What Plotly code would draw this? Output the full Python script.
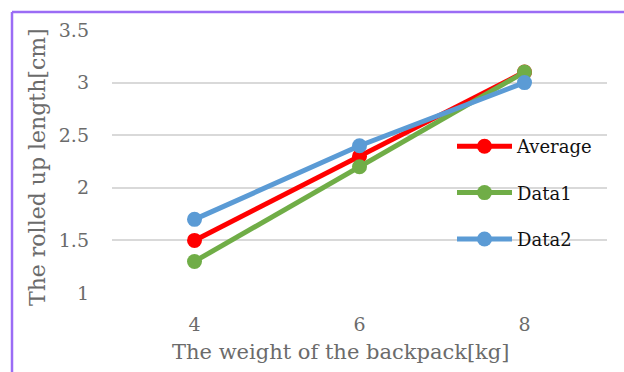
import plotly.graph_objects as go

weights = ["4", "6", "8"]
average = [1.5, 2.3, 3.1]
data1 = [1.3, 2.2, 3.1]
data2 = [1.7, 2.4, 3.0]
y_ticks = [1, 1.5, 2, 2.5, 3, 3.5]
y_tick_text = ["1", "1.5", "2", "2.5", "3", "3.5"]
x_title = "The weight of the backpack[kg]"
y_title = "The rolled up length[cm]"

series = [("Average", average, "#FF0000"), ("Data1", data1, "#70AD47"), ("Data2", data2, "#5B9BD5")]

FONT = "DejaVu Serif"
GRAY = "#6B6B6B"
fig = go.Figure()
for name, vals, col in series:
    fig.add_trace(go.Scatter(
        x=weights, y=vals, name=name, mode="lines+markers",
        line=dict(color=col, width=5), marker=dict(color=col, size=15),
        legendgroup=name,
    ))

W, H = 624, 372
L, R, T, B = 112, 17, 30, 79
pw, ph = W - L - R, H - T - B

def px(xp):
    return (xp - L) / pw

def py(yp):
    return (H - B - yp) / ph

border = "#9B6CF5"
fig.update_layout(
    width=W, height=H,
    margin=dict(l=L, r=R, t=T, b=B),
    paper_bgcolor="white", plot_bgcolor="white",
    font=dict(family=FONT, color=GRAY, size=19),
    xaxis=dict(type="category", range=[-0.5, 2.5], showgrid=False, showline=False,
               zeroline=False, ticks="", ticklabelstandoff=18,
               tickfont=dict(size=19, color=GRAY)),
    yaxis=dict(range=[1, 3.5], tickvals=y_ticks, ticktext=y_tick_text, showgrid=True,
               gridcolor="#D9D9D9", gridwidth=1.5, zeroline=False, showline=False, ticks="",
               ticklabelstandoff=22, tickfont=dict(size=19, color=GRAY)),
    legend=dict(x=px(452), y=py(128), xanchor="left", yanchor="top", bgcolor="rgba(0,0,0,0)",
                font=dict(family=FONT, size=18, color="#111111"), traceorder="grouped",
                tracegroupgap=20, itemwidth=55),
    showlegend=True,
    annotations=[
        dict(text=x_title, xref="paper", yref="paper", x=px(340), y=py(352),
             xanchor="center", yanchor="middle", showarrow=False,
             font=dict(family=FONT, size=21, color=GRAY)),
        dict(text=y_title, xref="paper", yref="paper", x=px(37), y=py(167),
             xanchor="center", yanchor="middle", showarrow=False, textangle=-90,
             font=dict(family=FONT, size=22, color=GRAY)),
    ],
    shapes=[
        dict(type="line", xref="paper", yref="paper", x0=px(12), x1=px(624), y0=py(12), y1=py(12),
             line=dict(color=border, width=2.5)),
        dict(type="line", xref="paper", yref="paper", x0=px(12), x1=px(12), y0=py(12), y1=py(372),
             line=dict(color=border, width=2.5)),
    ],
)

fig.write_html("out.html")
